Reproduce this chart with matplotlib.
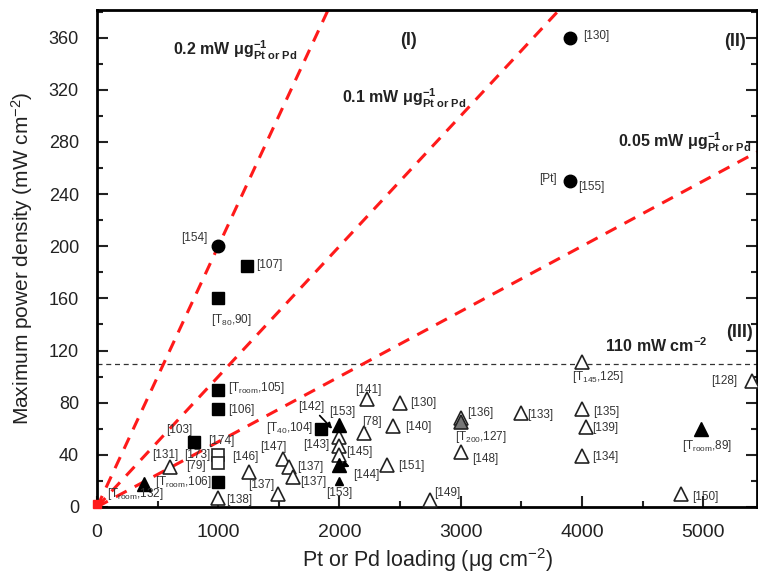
import matplotlib.pyplot as plt
from matplotlib.ticker import MultipleLocator

plt.rcParams['font.family'] = ['Liberation Sans', 'DejaVu Sans']
plt.rcParams['mathtext.fontset'] = 'custom'
plt.rcParams['mathtext.rm'] = 'Liberation Sans'
plt.rcParams['mathtext.it'] = 'Liberation Sans:italic'
plt.rcParams['mathtext.bf'] = 'Liberation Sans:bold'

# --- data (Pt or Pd loading in ug/cm2, max power density in mW/cm2) ---
fcirc_x = [3900, 3900, 1000]
fcirc_y = [360, 250, 200]

fsq_x = [1240, 1000, 1000, 1000, 800, 1000, 1850]
fsq_y = [185, 160, 90, 75, 50, 19, 60]

osq_x = [1000, 1000]
osq_y = [40, 34]

ftri_x = [390, 2000, 2000, 4980]
ftri_y = [18, 63, 32, 60]

small_tri_x = [2000]
small_tri_y = [20]

gtri_x = [3000]
gtri_y = [65]

otri_x = [600, 1000, 1250, 1530, 1583, 1617, 1490, 2000, 2000, 2000,
          2230, 2500, 2200, 2440, 2390, 2750, 3000, 3000, 3500, 4000,
          4000, 4030, 4000, 4820, 5400]
otri_y = [31, 7, 27, 37, 31, 23, 10, 54, 47, 40,
          83, 80, 57, 62, 32, 5, 68, 42, 72, 111,
          75, 61, 39, 10, 97]

origin_x = [0]
origin_y = [2]

slopes = [0.2, 0.1, 0.05]
limit_power = 110

# label text, anchor point, offset in pixels, alignment
labels = [
    ("[130]", 3900, 360, 13, 2, 'left'),
    ("[155]", 3900, 250, 8, -6, 'left'),
    ("[Pt]", 3900, 250, -13, 2, 'right'),
    ("[154]", 1000, 200, -11, 8, 'right'),
    ("[107]", 1240, 185, 9, 1, 'left'),
    (r"[T$_{80}$,90]", 1000, 160, -7, -22, 'left'),
    (r"[T$_{\mathrm{room}}$,105]", 1000, 90, 10, 2, 'left'),
    ("[106]", 1000, 75, 10, -1, 'left'),
    ("[103]", 800, 50, -2, 12, 'right'),
    ("[174]", 1000, 40, -10, 14, 'left'),
    ("[173]", 1000, 34, -34, 8, 'left'),
    ("[79]", 1000, 34, -13, -3, 'right'),
    (r"[T$_{\mathrm{room}}$,106]", 1000, 19, -6, 0, 'right'),
    (r"[T$_{\mathrm{room}}$,132]", 0, 2, 10, 10, 'left'),
    ("[131]", 600, 31, 9, 12, 'right'),
    ("[138]", 1000, 7, 8, -2, 'left'),
    ("[146]", 1250, 27, -16, 15, 'left'),
    ("[147]", 1530, 37, -22, 12, 'left'),
    ("[137]", 1583, 31, 8, 0, 'left'),
    ("[137]", 1617, 23, 7, -5, 'left'),
    ("[137]", 1490, 10, -30, 9, 'left'),
    (r"[T$_{40}$,104]", 1850, 60, -8, 1, 'right'),
    ("[153]", 2000, 63, -10, 13, 'left'),
    ("[143]", 2000, 54, -10, -8, 'right'),
    ("[145]", 2000, 40, 7, 3, 'left'),
    ("[153]", 2000, 20, -13, -12, 'left'),
    ("[141]", 2230, 83, -12, 9, 'left'),
    ("[130]", 2500, 80, 10, 0, 'left'),
    ("[78]", 2200, 57, -2, 11, 'left'),
    ("[140]", 2440, 62, 12, -1, 'left'),
    ("[151]", 2390, 32, 11, -1, 'left'),
    ("[149]", 2750, 5, 4, 7, 'left'),
    ("[136]", 3000, 68, 6, 5, 'left'),
    (r"[T$_{200}$,127]", 3000, 65, -6, -15, 'left'),
    ("[148]", 3000, 42, 11, -7, 'left'),
    ("[133]", 3500, 72, 6, -2, 'left'),
    (r"[T$_{145}$,125]", 4000, 111, -10, -15, 'left'),
    ("[135]", 4000, 75, 11, -3, 'left'),
    ("[139]", 4030, 61, 7, -1, 'left'),
    ("[134]", 4000, 39, 10, -1, 'left'),
    (r"[T$_{\mathrm{room}}$,89]", 4980, 60, -19, -17, 'left'),
    ("[150]", 4820, 10, 11, -3, 'left'),
    ("[128]", 5400, 97, -14, 0, 'right'),
]

fig = plt.figure(figsize=(7.58, 5.81), dpi=100)
ax = fig.add_axes([0.128, 0.1274, 0.871, 0.855])

# reference lines
xl = [0, 6000]
for s in slopes:
    ax.plot(xl, [s * v for v in xl], color='#ff1a1a', lw=2.2,
            linestyle=(0, (4, 3)), zorder=2)
ax.axhline(limit_power, color='#333333', lw=0.9, linestyle=(0, (4, 3)), zorder=1)

# markers
ax.plot(otri_x, otri_y, '^', ms=10, mfc='white', mec='#222222', mew=1.2, zorder=3)
ax.plot(gtri_x, gtri_y, '^', ms=10, mfc='#777777', mec='#222222', mew=1.2, zorder=3)
ax.plot(ftri_x, ftri_y, '^', ms=10, mfc='black', mec='black', zorder=4)
ax.plot(small_tri_x, small_tri_y, '^', ms=6, mfc='black', mec='black', zorder=4)
ax.plot(fsq_x, fsq_y, 's', ms=8, mfc='black', mec='black', zorder=4)
ax.plot(osq_x, osq_y, 's', ms=8, mfc='white', mec='#222222', mew=1.2, zorder=4)
ax.plot(fcirc_x, fcirc_y, 'o', ms=9, mfc='black', mec='black', zorder=3)
ax.plot(origin_x, origin_y, 's', ms=6, mfc='#ff1a1a', mec='#ff1a1a', zorder=4, clip_on=False)

for text, x, y, dx, dy, ha in labels:
    ax.annotate(text, (x, y), xytext=(dx, dy), textcoords='offset pixels',
                ha=ha, va='center', fontsize=8.5, color='#333333', zorder=5)

# arrows
ax.annotate("[142]", (1940, 60), xytext=(-34, 22), textcoords='offset pixels',
            ha='left', va='center', fontsize=8.5, color='#333333',
            arrowprops=dict(arrowstyle='-|>', color='black', lw=1.2, shrinkA=0, shrinkB=0))
ax.annotate("[144]", (2010, 34), xytext=(12, -12), textcoords='offset pixels',
            ha='left', va='center', fontsize=8.5, color='#333333',
            arrowprops=dict(arrowstyle='<|-', color='black', lw=1.5, shrinkA=0, shrinkB=2))

# region / slope labels
bold = dict(fontsize=11.5, fontweight='bold', color='#222222', va='center')
ax.text(627, 350, r"0.2 mW μg$^{\mathbf{-1}}_{\mathbf{Pt\ or\ Pd}}$", ha='left', **bold)
ax.text(2020, 313, r"0.1 mW μg$^{\mathbf{-1}}_{\mathbf{Pt\ or\ Pd}}$", ha='left', **bold)
ax.text(4300, 280, r"0.05 mW μg$^{\mathbf{-1}}_{\mathbf{Pt\ or\ Pd}}$", ha='left', **bold)
ax.text(4190, 124, r"110 mW cm$^{\mathbf{-2}}$", ha='left', **bold)
ax.text(2570, 358, "(I)", ha='center', fontsize=13, fontweight='bold', color='#222222', va='center')
ax.text(5260, 357, "(II)", ha='center', fontsize=13, fontweight='bold', color='#222222', va='center')
ax.text(5300, 134, "(III)", ha='center', fontsize=13, fontweight='bold', color='#222222', va='center')

ax.set_xlim(0, 5446)
ax.set_ylim(0, 381)
ax.xaxis.set_major_locator(MultipleLocator(1000))
ax.xaxis.set_minor_locator(MultipleLocator(500))
ax.yaxis.set_major_locator(MultipleLocator(40))
ax.yaxis.set_minor_locator(MultipleLocator(20))
ax.tick_params(which='both', direction='in', top=False, right=True, width=1.5,
               colors='#222222')
ax.tick_params(which='major', length=8)
ax.tick_params(which='minor', length=4)
ax.tick_params(axis='y', labelsize=13, pad=13)
ax.tick_params(axis='x', labelsize=14, pad=12)
for side in ax.spines:
    ax.spines[side].set_linewidth(2)

ax.set_xlabel(r"Pt or Pd loading (μg cm$^{-2}$)", fontsize=15.5, color='#222222', labelpad=4)
ax.set_ylabel(r"Maximum power density (mW cm$^{-2}$)", fontsize=15, color='#222222', labelpad=10)

fig.savefig("out.png", dpi=100)
